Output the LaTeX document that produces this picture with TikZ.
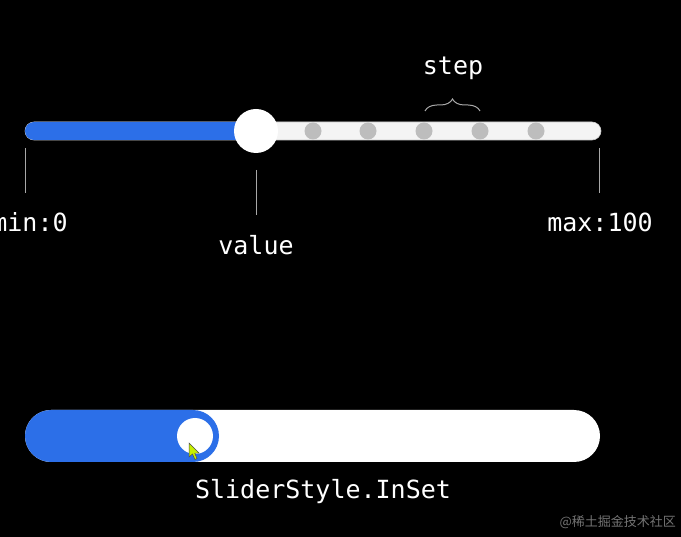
\documentclass[tikz,border=0pt]{standalone}
\usepackage{fontspec}
\setmonofont{DejaVu Sans Mono}
\newfontfamily\cjk{Noto Sans CJK SC}
\usetikzlibrary{decorations.pathreplacing}
\definecolor{sliderblue}{HTML}{2C6FE8}
\definecolor{dotgray}{HTML}{BDBDBD}
\definecolor{linegray}{HTML}{A8A8A8}
\definecolor{trackwhite}{HTML}{F4F4F4}
\tikzset{
  lbl/.style={text=white, font=\ttfamily\fontsize{25}{29}\selectfont, inner sep=0pt, anchor=center},
  tick/.style={draw=linegray, line width=1pt},
  stepdot/.style={circle, fill=dotgray, minimum size=17pt, inner sep=0pt},
  thumb/.style={circle, fill=white, inner sep=0pt},
}
\begin{document}
\begin{tikzpicture}[x=1pt, y=-1pt]
\fill[black] (0,0) rectangle (681,537);
\useasboundingbox (0,0) rectangle (681,537);
% top slider track
\fill[trackwhite, draw=linegray!60, line width=0.6pt, rounded corners=9pt] (25,122) rectangle (601,140);
\fill[sliderblue, rounded corners=9pt] (25,122) rectangle (262,140);
\foreach \x [count=\i] in {313,368,424,480,536} \node[stepdot] (d\i) at (\x,131) {};
\node[thumb, minimum size=44pt] (thumb) at (256,131) {};
% brace and step
\draw[draw=linegray, line width=1pt, decorate, decoration={brace, amplitude=12pt}] (425,111) -- (480,111) coordinate[pos=0.5] (bt);
\node[lbl] (step) at (453,68) {step};
% ticks and labels
\node[lbl] (min) at (30,222) {min:0};
\node[lbl] (value) at (256,245) {value};
\node[lbl] (max) at (600,222) {max:100};
\coordinate (minA) at (25,148);
\coordinate (minB) at (25,193);
\coordinate (valA) at (256,170);
\coordinate (valB) at (256,215);
\coordinate (maxA) at (599,148);
\coordinate (maxB) at (599,193);
\draw[tick] (minA) -- (minB);
\draw[tick] (valA) -- (valB);
\draw[tick] (maxA) -- (maxB);
% bottom slider (InSet)
\fill[white, rounded corners=26pt] (25,410) rectangle (600,462);
\fill[sliderblue, rounded corners=26pt] (25,410) rectangle (219,462);
\fill[sliderblue] (150,410) rectangle (195,462);
\node[thumb, minimum size=36pt] (thumb2) at (195,436) {};
% cursor
\fill[draw=black!70, fill={rgb,255:red,200;green,240;blue,0}, line width=0.5pt]
  (189,443) -- (189,457) -- (192.5,454) -- (195,459.5) -- (197,458.5) -- (194.8,453.3) -- (199,453) -- cycle;
\node[lbl] (inset) at (323,492) {SliderStyle.InSet};
\node[text=white!45!black, font=\cjk\fontsize{13}{15}\selectfont, inner sep=0pt, anchor=east] (wm) at (676,522) {@稀土掘金技术社区};
\end{tikzpicture}
\end{document}
